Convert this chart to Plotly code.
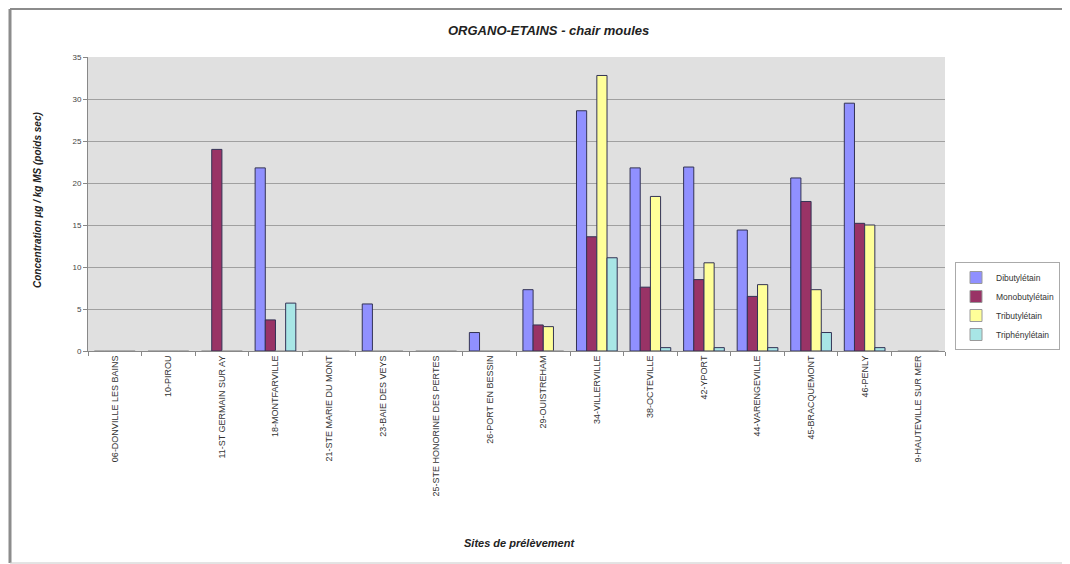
import plotly.graph_objects as go

sites = [
    "06-DONVILLE LES BAINS", "10-PIROU", "11-ST GERMAIN SUR AY", "18-MONTFARVILLE",
    "21-STE MARIE DU MONT", "23-BAIE DES VEYS", "25-STE HONORINE DES PERTES",
    "26-PORT EN BESSIN", "29-OUISTREHAM", "34-VILLERVILLE", "38-OCTEVILLE",
    "42-YPORT", "44-VARENGEVILLE", "45-BRACQUEMONT", "46-PENLY", "9-HAUTEVILLE SUR MER",
]
dibutyl = [0, 0, 0, 21.8, 0, 5.6, 0, 2.2, 7.3, 28.6, 21.8, 21.9, 14.4, 20.6, 29.5, 0]
monobutyl = [0, 0, 24.0, 3.7, 0, 0, 0, 0, 3.1, 13.6, 7.6, 8.5, 6.5, 17.8, 15.2, 0]
tributyl = [0, 0, 0, 0, 0, 0, 0, 0, 2.9, 32.8, 18.4, 10.5, 7.9, 7.3, 15.0, 0]
triphenyl = [0, 0, 0, 5.7, 0, 0, 0, 0, 0, 11.1, 0.4, 0.4, 0.4, 2.2, 0.4, 0]

series_names = ["Dibutylétain", "Monobutylétain", "Tributylétain", "Triphénylétain"]
series_values = [dibutyl, monobutyl, tributyl, triphenyl]
series_colors = ["#9090FF", "#993366", "#FFFF99", "#A8E6E6"]
y_ticks = [0, 5, 10, 15, 20, 25, 30, 35]

W, H = 1070, 564
OFF = 8  # page body margin offset
L, T = 88 - OFF, 57 - OFF
R = W - (945 - OFF)
B = H - (351 - OFF)
pw, ph = W - L - R, H - T - B


def px(xs):
    return (xs - OFF - L) / pw


def py(ys):
    return (H - B - (ys - OFF)) / ph


fig = go.Figure()
for name, vals, col in zip(series_names, series_values, series_colors):
    fig.add_trace(go.Bar(
        x=sites, y=vals, name=name,
        marker=dict(color=col, line=dict(
            color=["#333355" if v > 0 else "#9A9A9A" for v in vals], width=1)),
    ))

frame = dict(color="#8C8C8C", width=2)
shapes = [
    dict(type="line", xref="paper", yref="paper", x0=px(10), x1=px(10), y0=py(563), y1=py(OFF + 1),
         line=dict(color="#8C8C8C", width=3), layer="below"),
    dict(type="line", xref="paper", yref="paper", x0=px(10), x1=px(W + 20), y0=py(OFF + 1), y1=py(OFF + 1),
         line=frame, layer="below"),
    dict(type="line", xref="paper", yref="paper", x0=px(10), x1=px(W + 20), y0=py(563), y1=py(563),
         line=dict(color="#C8C8C8", width=1), layer="below"),
]

annotations = [
    dict(text="<b><i>ORGANO-ETAINS - chair moules</i></b>", xref="paper", yref="paper",
         x=px(548), y=py(30), xanchor="center", yanchor="middle", showarrow=False,
         font=dict(size=13, color="#222222")),
    dict(text="<b><i>Concentration µg / kg MS (poids sec)</i></b>", xref="paper", yref="paper",
         x=px(37), y=py(200), xanchor="center", yanchor="middle", showarrow=False, textangle=-90,
         font=dict(size=10, color="#222222")),
    dict(text="<b><i>Sites de prélèvement</i></b>", xref="paper", yref="paper",
         x=px(519), y=py(543), xanchor="center", yanchor="middle", showarrow=False,
         font=dict(size=11, color="#222222")),
]

fig.update_layout(
    width=W, height=H,
    margin=dict(l=L, r=R, t=T, b=B, autoexpand=False),
    paper_bgcolor="white",
    plot_bgcolor="#E0E0E0",
    barmode="group",
    bargap=0.24,
    bargroupgap=0.0,
    font=dict(family="Liberation Sans, Arial, sans-serif", size=9, color="#333333"),
    showlegend=True,
    legend=dict(
        x=px(955), y=py(262), xanchor="left", yanchor="top",
        bgcolor="white", bordercolor="#AAAAAA", borderwidth=1,
        font=dict(size=8.5, color="#333333"), tracegroupgap=0, itemwidth=30,
    ),
    shapes=shapes,
    annotations=annotations,
    xaxis=dict(
        type="category", tickangle=-90, tickfont=dict(size=9, color="#333333"),
        showline=True, linecolor="#888888", linewidth=1,
        ticks="outside", tickson="boundaries", ticklen=4, tickcolor="#888888",
        showgrid=False,
    ),
    yaxis=dict(
        range=[0, 35], tickvals=y_ticks, ticktext=[str(v) for v in y_ticks],
        tickfont=dict(size=8, color="#444444"),
        showgrid=True, gridcolor="#A0A0A0", gridwidth=1,
        showline=True, linecolor="#888888", linewidth=1,
        ticks="outside", ticklen=4, tickcolor="#888888",
        zeroline=False,
    ),
)

fig.write_html("out.html")
